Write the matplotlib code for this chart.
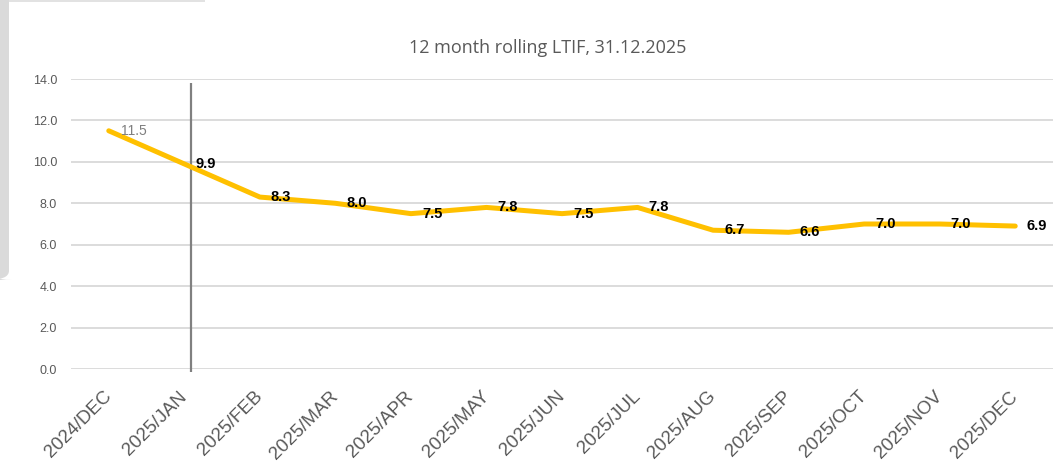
import matplotlib
matplotlib.use("Agg")
import matplotlib.pyplot as plt
from matplotlib.patches import FancyBboxPatch, Rectangle

months = ["2024/DEC", "2025/JAN", "2025/FEB", "2025/MAR", "2025/APR", "2025/MAY",
          "2025/JUN", "2025/JUL", "2025/AUG", "2025/SEP", "2025/OCT", "2025/NOV",
          "2025/DEC"]
ltif = [11.5, 9.9, 8.3, 8.0, 7.5, 7.8, 7.5, 7.8, 6.7, 6.6, 7.0, 7.0, 6.9]
y_ticks = [0, 2, 4, 6, 8, 10, 12, 14]
marker_month = "2025/JAN"

LINE = "#FFC000"
GRID = "#D9D9D9"
TICK = "#595959"

plt.rcParams["font.family"] = ["Liberation Sans", "DejaVu Sans"]

fig = plt.figure(figsize=(10.64, 4.62), dpi=100)
ax = fig.add_axes([71 / 1064, 1 - 369 / 462, (1053 - 71) / 1064, (369 - 79) / 462])

x = list(range(len(months)))
ax.plot(x, ltif, color=LINE, lw=3.6, solid_joinstyle="round", solid_capstyle="round", zorder=3)

for i, v in enumerate(ltif):
    if i == 0:
        ax.annotate(f"{v:.1f}", (i, v), xytext=(9, 0), textcoords="offset points",
                    ha="left", va="center", fontsize=10, color="#7F7F7F", zorder=4)
    else:
        ax.annotate(f"{v:.1f}", (i, v), xytext=(8, 0), textcoords="offset points",
                    ha="left", va="center", fontsize=10.5, fontweight="bold", color="black",
                    zorder=4)

# the JAN marker sits a little right of the category centre in the original
mx = months.index(marker_month) + 0.09
ax.vlines(mx, -0.15, 13.8, color="#808080", lw=1.6, clip_on=False, zorder=2)

ax.set_xlim(-0.5, len(months) - 0.5)
ax.set_ylim(0, 14)
ax.set_yticks(y_ticks)
ax.set_yticklabels([f"{t:.1f}" for t in y_ticks])
ax.set_xticks(x)
ax.set_xticklabels(months, rotation=45, ha="right", va="center", rotation_mode="anchor")
ax.tick_params(axis="y", length=0, pad=10, labelsize=9, labelcolor=TICK)
ax.tick_params(axis="x", length=0, pad=18, labelsize=13.5, labelcolor=TICK)
ax.grid(axis="y", color=GRID, lw=1.3)
ax.set_axisbelow(True)
for s in ax.spines.values():
    s.set_visible(False)

fig.text(548 / 1064, 1 - 48 / 462, "12 month rolling LTIF, 31.12.2025",
         ha="center", va="center", fontsize=13, color=TICK,
         family=["Open Sans", "DejaVu Sans"])

# screenshot frame remnants
fig.patches.append(FancyBboxPatch((-10 / 1064, 1 - 280 / 462), 19 / 1064, 300 / 462,
                                  boxstyle="round,pad=0,rounding_size=0.02",
                                  transform=fig.transFigure, color="#DADADA", lw=0))
fig.patches.append(Rectangle((9 / 1064, 1 - 2 / 462), 196 / 1064, 2 / 462,
                             transform=fig.transFigure, color="#E2E2E2", lw=0))

fig.savefig("out.png", dpi=100, facecolor="white")
